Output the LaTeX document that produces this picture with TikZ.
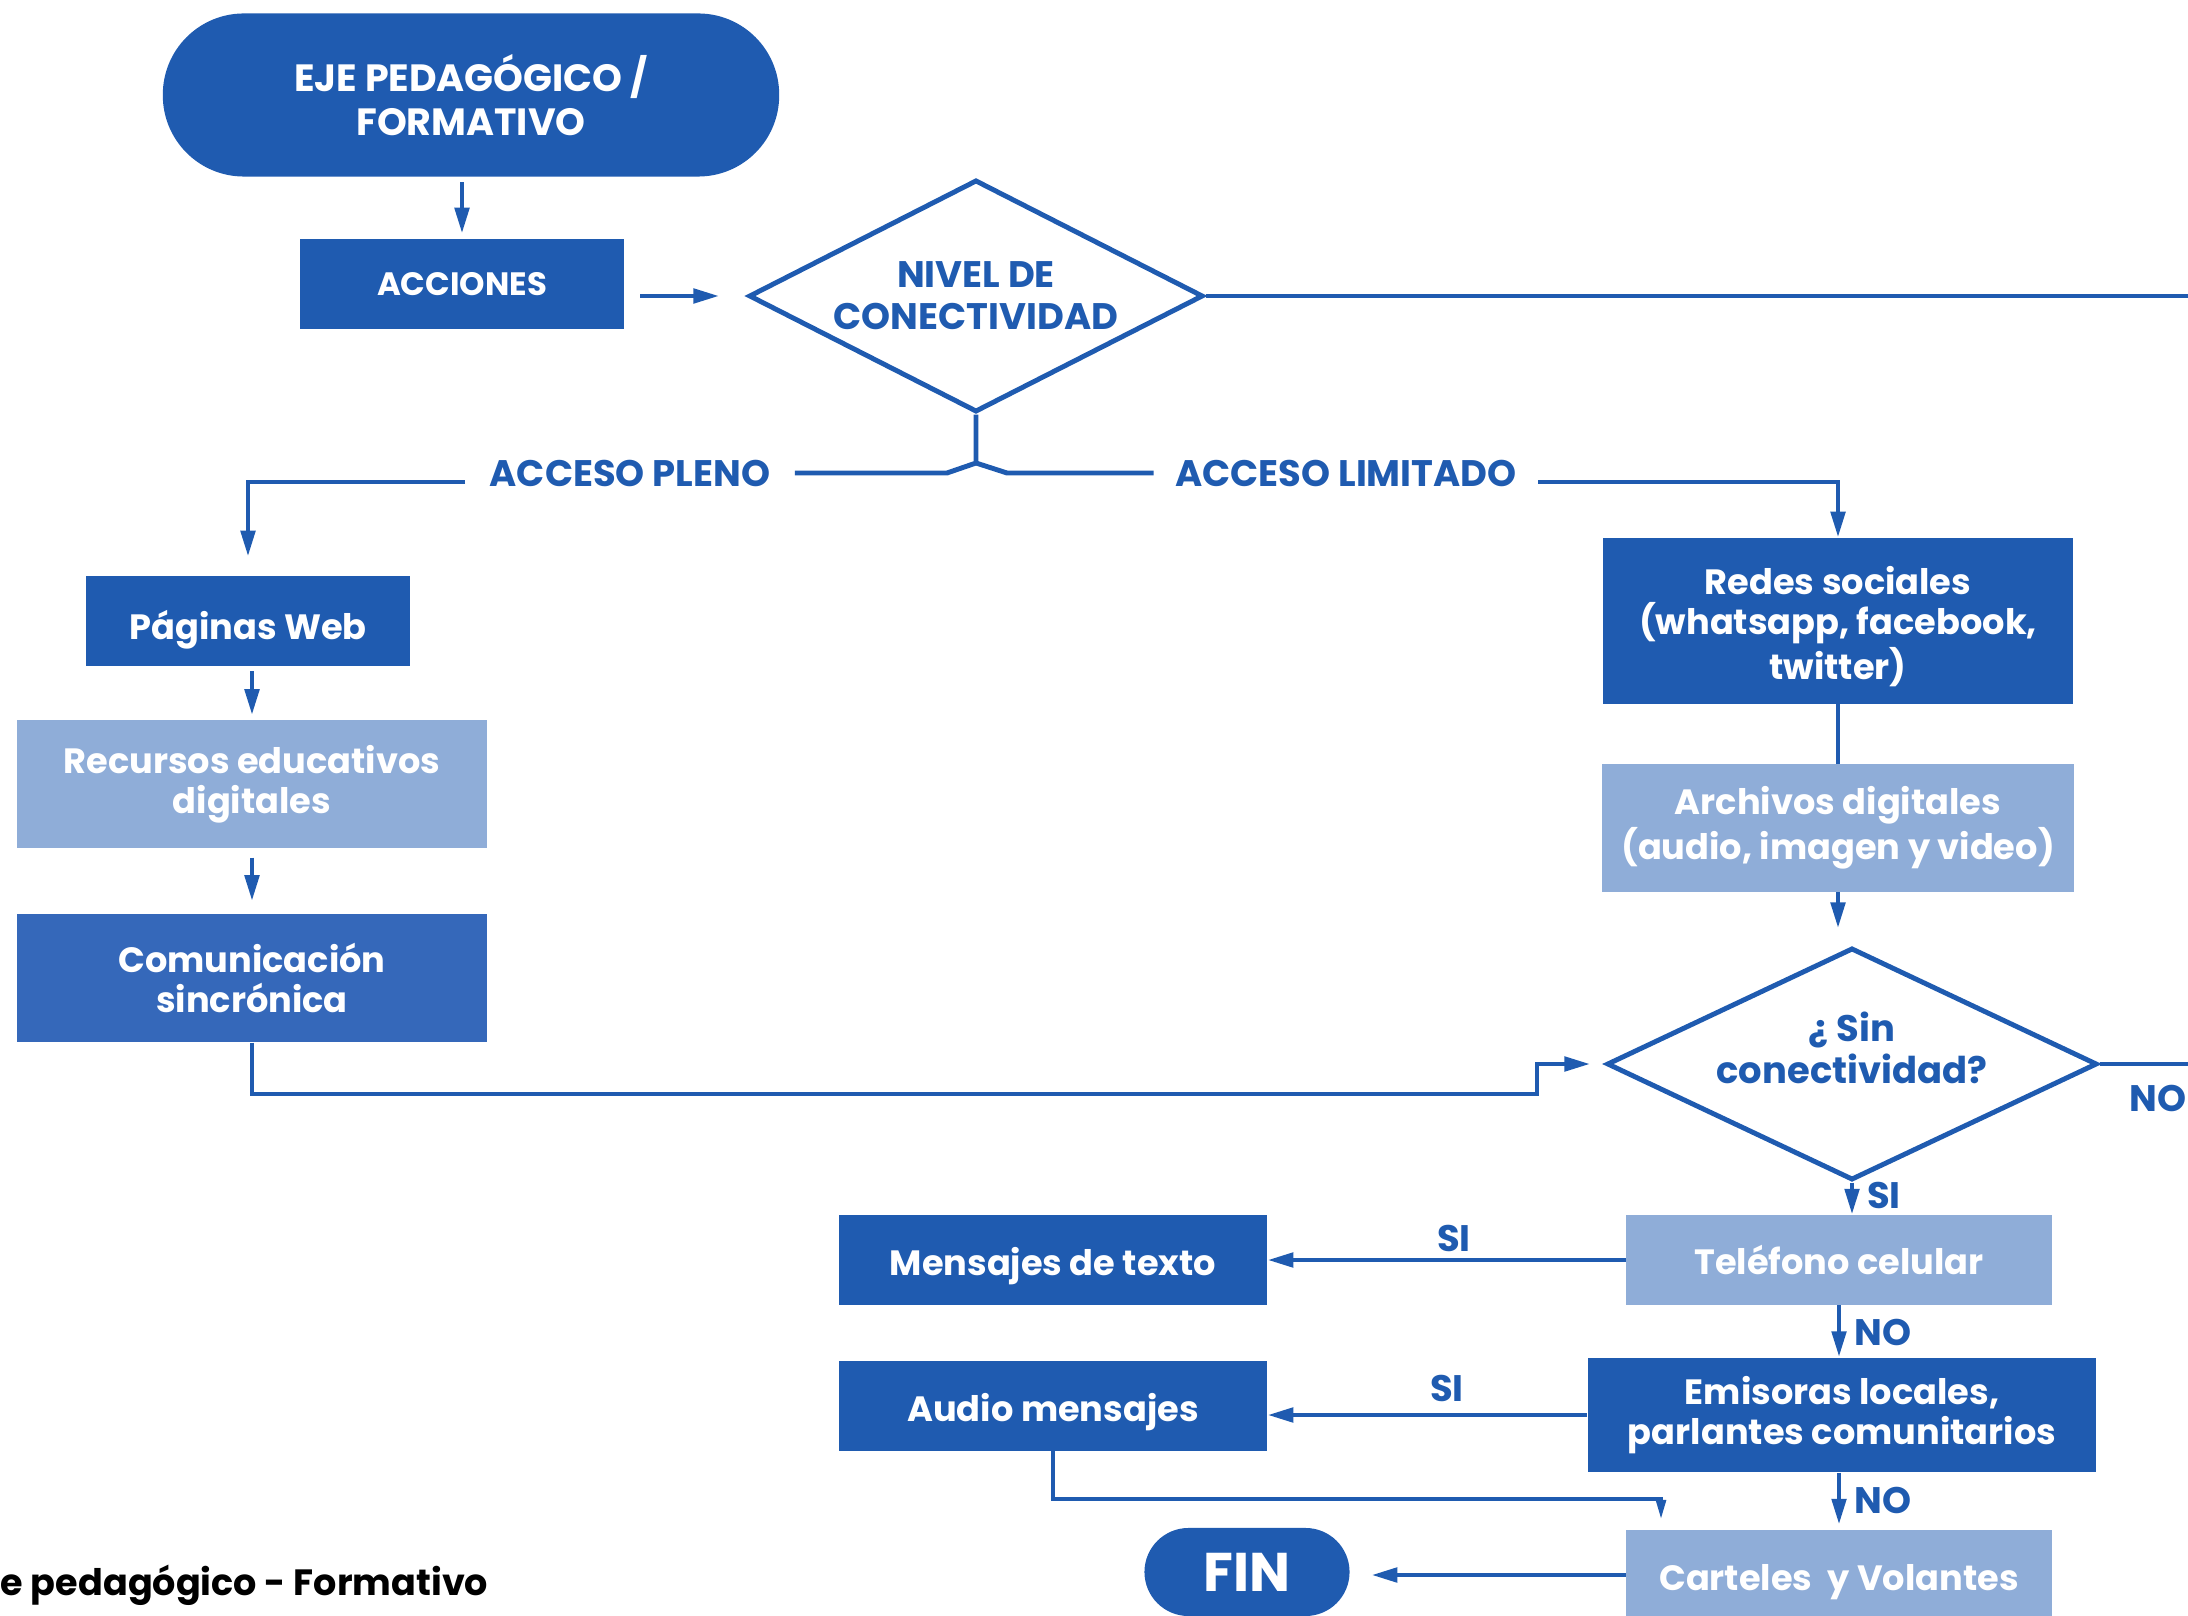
\documentclass[tikz,border=0pt]{standalone}
\usepackage{fontspec}
\setmainfont{Poppins}
\usetikzlibrary{arrows.meta,shapes.geometric}
\definecolor{azul}{RGB}{31,91,176}
\definecolor{celeste}{RGB}{143,173,216}
\definecolor{azulm}{RGB}{53,104,186}
\begin{document}
\begin{tikzpicture}[x=0.01cm,y=-0.01cm,
  caja/.style={rectangle,fill=azul,text=white,font=\bfseries\fontsize{10}{11.4}\selectfont,align=center,inner sep=0pt},
  clara/.style={caja,fill=celeste},
  baja/.style={text height=11.3pt,text depth=2.5pt},
  rombo/.style={diamond,aspect=2,draw=azul,line width=1.4pt,text=azul,font=\bfseries\fontsize{10.5}{12}\selectfont,align=center,inner sep=0pt},
  etiq/.style={text=azul,font=\bfseries\fontsize{10.5}{12}\selectfont,inner sep=0pt},
  linea/.style={draw=azul,line width=1.4pt},
  flecha/.style={linea,-{Triangle[length=2.6mm,width=1.4mm]}},
  flechafina/.style={linea,-{Triangle[length=2.2mm,width=0.9mm]}}]
\useasboundingbox (0,0) rectangle (2188,1616);
\node (eje) at (471,95) [caja,minimum width=6.16cm,minimum height=1.63cm,rounded corners=0.81cm,font=\bfseries\fontsize{10.8}{12.3}\selectfont] {EJE PEDAGÓGICO /\\FORMATIVO};
\node (acc) at (462,284) [caja,minimum width=3.23cm,minimum height=0.89cm,font=\bfseries\fontsize{9.2}{11}\selectfont] {ACCIONES};
\node (nivel) at (976,296) [rombo,minimum width=4.54cm,minimum height=2.32cm] {NIVEL DE\\CONECTIVIDAD};
\coordinate (jn) at (976,463);
\node (pleno) at (630,473) [etiq,inner xsep=0.24cm] {ACCESO PLENO};
\node (limit) at (1346,473) [etiq,inner xsep=0.21cm] {ACCESO LIMITADO};
\node (web) at (248,621) [caja,text height=13pt,text depth=2.5pt,minimum width=3.23cm,minimum height=0.89cm] {Páginas Web};
\node (rec) at (252,784) [clara,minimum width=4.70cm,minimum height=1.28cm] {Recursos educativos\\digitales};
\node (com) at (252,978) [caja,fill=azulm,minimum width=4.70cm,minimum height=1.28cm] {Comunicación\\sincrónica};
\node (redes) at (1838,621) [caja,minimum width=4.70cm,minimum height=1.65cm] {\mbox{}\\Redes sociales\\(whatsapp, facebook,\\twitter)};
\node (arch) at (1838,828) [clara,minimum width=4.71cm,minimum height=1.27cm] {Archivos digitales\\(audio, imagen y video)};
\node (sin) at (1852,1064) [rombo,inner sep=-0.1cm,minimum width=4.90cm,minimum height=2.32cm] {¿ Sin\\conectividad?\\[-2.7pt]\mbox{}};
\node (tel) at (1839,1260) [clara,minimum width=4.25cm,minimum height=0.89cm] {Teléfono celular};
\node (men) at (1053,1260) [caja,baja,minimum width=4.27cm,minimum height=0.89cm] {Mensajes de texto};
\node (emi) at (1842,1415) [caja,minimum width=5.08cm,minimum height=1.14cm] {Emisoras locales,\\parlantes comunitarios};
\node (aud) at (1053,1406) [caja,baja,minimum width=4.27cm,minimum height=0.89cm] {Audio mensajes};
\node (car) at (1839,1575) [clara,baja,minimum width=4.25cm,minimum height=0.89cm] {Carteles\ \ y Volantes};
\node (fin) at (1247,1572) [caja,minimum width=2.05cm,minimum height=0.88cm,rounded corners=0.44cm,font=\bfseries\fontsize{15.5}{18}\selectfont] {FIN};
\node (si1) at (1884,1195) [etiq] {SI};
\node (si2) at (1454,1238) [etiq] {SI};
\node (no1) at (1883,1332) [etiq] {NO};
\node (si3) at (1447,1388) [etiq] {SI};
\node (no2) at (1883,1500) [etiq] {NO};
\node (no3) at (2158,1098) [etiq] {NO};
\node (pie) at (0,1595) [anchor=base west,inner sep=0pt,font=\bfseries\fontsize{10.4}{12.5}\selectfont] {e pedagógico - Formativo};
\coordinate (nivelfuera) at (2200,296);
\coordinate (sinfuera) at (2200,1064);
\coordinate (kink) at (1537,1094);
\coordinate (audk) at (1661,1499);
\draw[flecha,shorten <=0.05cm,shorten >=0.05cm] (acc |- eje.south) -- (acc.north);
\draw[flecha,shorten <=0.16cm,shorten >=0.27cm] (acc.east |- nivel) -- (nivel.west);
\draw[linea] (nivel.east) -- (nivelfuera);
\draw[linea] (nivel.south) -- (jn) -- ++(-29,10) -- (pleno.east);
\draw[flecha,shorten >=0.19cm] (pleno.west) ++(0,9) -| (web.north);
\draw[linea] (jn) -- ++(31,10) -- (limit.west);
\draw[flecha] (limit.east) ++(0,9) -| (redes.north);
\draw[flecha,shorten <=0.05cm,shorten >=0.04cm] (rec |- web.south) -- (rec.north);
\draw[flecha,shorten <=0.09cm,shorten >=0.12cm] (rec) -- (com);
\draw[flecha,shorten >=0.14cm] (com.south) |- (kink) |- (sin.west);
\draw[linea] (redes) -- (arch);
\draw[flecha,shorten >=0.17cm] (arch.south) -- (arch.south |- sin.north);
\draw[linea] (sin.east) -- (sinfuera);
\draw[flecha] (sin.south) -- (sin.south |- tel.north);
\draw[flecha] (tel.west) -- (men.east);
\draw[flecha] (tel.south) -- (tel.south |- emi.north);
\draw[flecha] (emi.west) -- (emi.west -| aud.east);
\draw[flecha,shorten >=0.05cm] (car |- emi.south) -- (car.north);
\draw[flechafina,shorten >=0.08cm] (aud.south) |- (audk) -- (audk |- car.north);
\draw[flecha,shorten >=0.21cm] (car.west) -- (car.west -| fin.east);
\end{tikzpicture}
\end{document}
